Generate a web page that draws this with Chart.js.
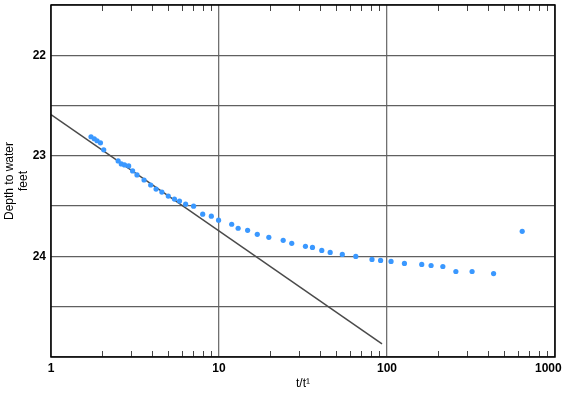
<!DOCTYPE html>
<html>
<head>
<meta charset="utf-8">
<script src="https://cdn.jsdelivr.net/npm/chart.js@4/dist/chart.umd.min.js"></script>
<style>
  html, body { margin: 0; padding: 0; background: #fff; }
  #wrap { width: 566px; height: 393px; }
</style>
</head>
<body>
<div id="wrap"><canvas id="chart" width="566" height="393"></canvas></div>
<script>
// measured recovery, t/t' vs depth to water (feet)
const ratioT = [1.73, 1.81, 1.88, 1.97, 2.06, 2.51, 2.62, 2.74, 2.90, 3.06, 3.25, 3.58, 3.92, 4.22, 4.57, 4.99,
  5.43, 5.82, 6.33, 7.06, 8.0, 9.0, 9.94, 11.9, 13.0, 14.8, 16.9, 19.8, 24.1, 27.1, 32.7, 36.0, 40.9, 45.9,
  54.2, 65.2, 81.4, 91.6, 105.7, 127, 161, 183, 215, 257, 321, 431, 638];
const depth = [22.81, 22.83, 22.85, 22.87, 22.94, 23.05, 23.08, 23.09, 23.10, 23.15, 23.19, 23.24, 23.29, 23.33,
  23.36, 23.40, 23.43, 23.45, 23.48, 23.50, 23.58, 23.60, 23.64, 23.68, 23.72, 23.74, 23.78, 23.81, 23.84,
  23.87, 23.90, 23.91, 23.94, 23.96, 23.98, 24.00, 24.03, 24.04, 24.05, 24.07, 24.08, 24.09, 24.10, 24.15,
  24.15, 24.17, 23.75];

// fitted straight line
const fitX = [1, 93.4];
const fitY = [22.59, 24.87];

const xTicks = [1, 2, 3, 4, 5, 6, 7, 8, 9, 10, 20, 30, 40, 50, 60, 70, 80, 90, 100,
  200, 300, 400, 500, 600, 700, 800, 900, 1000];
const xMajor = [1, 10, 100, 1000];
const yLabels = [22, 23, 24];

const FONT = "'Liberation Sans', Arial, Helvetica, sans-serif";

const minorTicks = {
  id: "minorTicks",
  afterDatasetsDraw(chart) {
    const { ctx, chartArea: a, scales: { x } } = chart;
    ctx.save();
    ctx.strokeStyle = "#444";
    ctx.lineWidth = 1;
    xTicks.filter(v => !xMajor.includes(v)).forEach(v => {
      const px = Math.round(x.getPixelForValue(v)) + 0.5;
      ctx.beginPath();
      ctx.moveTo(px, a.top); ctx.lineTo(px, a.top + 6);
      ctx.moveTo(px, a.bottom); ctx.lineTo(px, a.bottom - 6);
      ctx.stroke();
    });
    ctx.lineWidth = 1.5;
    ctx.strokeStyle = "#000";
    ctx.strokeRect(a.left, a.top, a.right - a.left, a.bottom - a.top);
    ctx.restore();
  }
};

new Chart(document.getElementById("chart"), {
  type: "scatter",
  data: {
    datasets: [
      {
        data: ratioT.map((v, i) => ({ x: v, y: depth[i] })),
        backgroundColor: "#3a98ff",
        borderWidth: 0,
        pointRadius: 2.6,
        pointHoverRadius: 2.6
      },
      {
        type: "line",
        data: fitX.map((v, i) => ({ x: v, y: fitY[i] })),
        borderColor: "#4a4a4a",
        borderWidth: 1.5,
        pointRadius: 0,
        fill: false
      }
    ]
  },
  options: {
    responsive: false,
    animation: false,
    layout: { padding: { top: 5, right: 11, left: 0, bottom: 0 } },
    plugins: { legend: { display: false }, tooltip: { enabled: false } },
    scales: {
      x: {
        type: "logarithmic",
        min: 1, max: 1000,
        afterBuildTicks: s => { s.ticks = xTicks.map(v => ({ value: v })); },
        afterFit: s => { s.height = 36; s.paddingLeft = 0; s.paddingRight = 0; },
        border: { display: false },
        grid: {
          drawTicks: false,
          color: c => (c.tick && xMajor.includes(c.tick.value)) ? "#707070" : "rgba(0,0,0,0)",
          lineWidth: 1.3
        },
        ticks: {
          autoSkip: false,
          maxRotation: 0,
          padding: 4,
          color: "#000",
          font: { family: FONT, size: 12, weight: "bold" },
          // last label sits left of the edge, as in the original
          callback: v => !xMajor.includes(v) ? "" : (v === 1000 ? "1000    " : String(v))
        },
        title: {
          display: true,
          text: "t/t\u00B9",
          color: "#000",
          font: { family: FONT, size: 12 },
          padding: { top: 0, bottom: 2 }
        }
      },
      y: {
        reverse: true,
        min: 21.5, max: 25,
        afterBuildTicks: s => {
          const t = [];
          for (let v = 21.5; v <= 25.001; v += 0.5) t.push({ value: Math.round(v * 10) / 10 });
          s.ticks = t;
        },
        afterFit: s => { s.width = 51; s.paddingTop = 0; s.paddingBottom = 0; },
        border: { display: false },
        grid: { drawTicks: false, color: "#606060", lineWidth: 1.3 },
        ticks: {
          padding: 5,
          color: "#000",
          font: { family: FONT, size: 12, weight: "bold" },
          callback: v => yLabels.includes(v) ? String(v) : ""
        },
        title: {
          display: true,
          text: ["Depth to water", "feet"],
          color: "#000",
          font: { family: FONT, size: 12 },
          padding: { top: 2, bottom: 0 }
        }
      }
    }
  },
  plugins: [minorTicks]
});
</script>
</body>
</html>
